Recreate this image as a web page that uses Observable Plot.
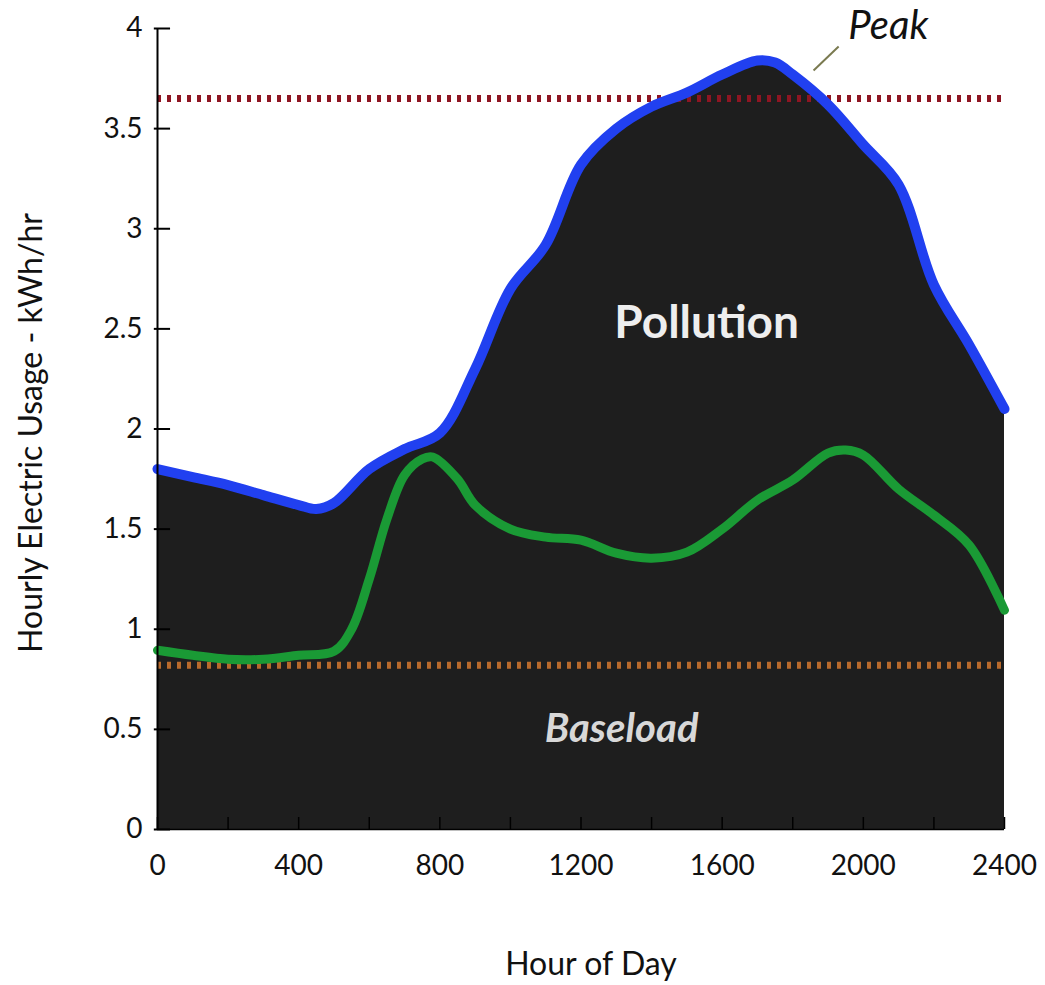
<!DOCTYPE html>
<html>
<head>
<meta charset="utf-8">
<script src="https://cdn.jsdelivr.net/npm/d3@7"></script>
<script src="https://cdn.jsdelivr.net/npm/@observablehq/plot@0.6"></script>
<style>
  html, body { margin: 0; padding: 0; background: #fff; }
</style>
</head>
<body>
<div id="chart"></div>
<script>
// Hour of day (x) and hourly electric usage in kWh/hr
const hours = [0, 100, 200, 300, 400, 450, 500, 600, 700, 800, 900, 1000, 1100, 1200, 1300, 1400, 1500, 1600, 1700, 1750, 1800, 1900, 2000, 2100, 2200, 2300, 2400];
const totalUsage = [1.8, 1.76, 1.72, 1.67, 1.62, 1.6, 1.63, 1.8, 1.9, 1.98, 2.3, 2.7, 2.92, 3.32, 3.5, 3.61, 3.68, 3.77, 3.84, 3.83, 3.77, 3.62, 3.42, 3.22, 2.72, 2.42, 2.1];

const greenHours = [0, 100, 200, 300, 400, 500, 550, 600, 650, 700, 750, 780, 850, 900, 1000, 1100, 1200, 1300, 1400, 1500, 1600, 1700, 1800, 1900, 1950, 2000, 2100, 2200, 2300, 2400];
const greenUsage = [0.895, 0.87, 0.85, 0.85, 0.87, 0.89, 1.0, 1.25, 1.55, 1.77, 1.85, 1.86, 1.75, 1.62, 1.5, 1.46, 1.445, 1.38, 1.355, 1.385, 1.5, 1.645, 1.745, 1.88, 1.895, 1.87, 1.7, 1.57, 1.42, 1.095];

const peakLevel = 3.65;
const baseloadLevel = 0.82;

const xTickValues = [0, 400, 800, 1200, 1600, 2000, 2400];
const xMinorTicks = [0, 200, 400, 600, 800, 1000, 1200, 1400, 1600, 1800, 2000, 2200, 2400];
const yTickValues = [0, 0.5, 1, 1.5, 2, 2.5, 3, 3.5, 4];

const totalData = hours.map((h, i) => ({hour: h, usage: totalUsage[i]}));
const greenData = greenHours.map((h, i) => ({hour: h, usage: greenUsage[i]}));

const chart = Plot.plot({
  width: 1045,
  height: 985,
  marginLeft: 157,
  marginRight: 41,
  marginTop: 28,
  marginBottom: 156,
  style: {fontFamily: "Lato, 'Open Sans', sans-serif", fontSize: "28px", background: "#ffffff", color: "#111"},
  x: {domain: [0, 2400]},
  y: {domain: [0, 4]},
  marks: [
    Plot.areaY(totalData, {x: "hour", y: "usage", fill: "#1e1e1e", curve: "catmull-rom"}),
    Plot.ruleX(xMinorTicks, {y1: 0, y2: 0.06, stroke: "#000", strokeWidth: 1.5}),
    Plot.ruleY([peakLevel], {x1: 0, x2: 2400, stroke: "#8e1522", strokeWidth: 7, strokeDasharray: "4,6"}),
    Plot.ruleY([baseloadLevel], {x1: 0, x2: 2400, stroke: "#b86a2c", strokeWidth: 7, strokeDasharray: "4,6"}),
    Plot.line(greenData, {x: "hour", y: "usage", stroke: "#1a9a35", strokeWidth: 9, curve: "catmull-rom", strokeLinecap: "round"}),
    Plot.line(totalData, {x: "hour", y: "usage", stroke: "#2140f0", strokeWidth: 10, curve: "catmull-rom", strokeLinecap: "round"}),
    Plot.ruleY([0], {x1: 0, x2: 2400, stroke: "#000", strokeWidth: 1.5}),
    Plot.ruleX([0], {y1: 0, y2: 4, stroke: "#000", strokeWidth: 2}),
    Plot.ruleY(yTickValues, {x1: -9, x2: 37, stroke: "#000", strokeWidth: 2}),
    Plot.axisY({ticks: yTickValues, tickSize: 0, tickPadding: 15, tickFormat: d => String(d), label: null}),
    Plot.axisX({ticks: xTickValues, tickSize: 0, tickPadding: 26, tickFormat: d => String(d), label: null}),
    Plot.text(["Hourly Electric Usage - kWh/hr"], {frameAnchor: "left", textAnchor: "middle", rotate: -90, dx: -126, dy: 4, fontSize: 32, fill: "#111"}),
    Plot.text(["Hour of Day"], {frameAnchor: "bottom", dx: 10, dy: 145, fontSize: 32, fill: "#111"}),
    Plot.link([{x1: 1859, y1: 3.79, x2: 1930, y2: 3.91}], {x1: "x1", y1: "y1", x2: "x2", y2: "y2", stroke: "#7a7a50", strokeWidth: 2}),
    Plot.text([{hour: 2071, usage: 4.01, text: "Peak"}], {x: "hour", y: "usage", text: "text", fontSize: 40, fontStyle: "italic", fill: "#111", textAnchor: "middle"}),
    Plot.text([{hour: 1556, usage: 2.53, text: "Pollution"}], {x: "hour", y: "usage", text: "text", fontSize: 46, fontWeight: "bold", fill: "#eeeeee", textAnchor: "middle"}),
    Plot.text([{hour: 1315, usage: 0.5, text: "Baseload"}], {x: "hour", y: "usage", text: "text", fontSize: 40, fontWeight: "bold", fontStyle: "italic", fill: "#d8d8d8", textAnchor: "middle"})
  ]
});
document.getElementById("chart").appendChild(chart);
</script>
</body>
</html>
